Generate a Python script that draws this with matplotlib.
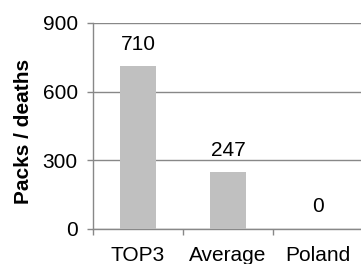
import matplotlib
matplotlib.use("Agg")
import matplotlib.pyplot as plt

categories = ["TOP3", "Average", "Poland"]
values = [710, 247, 0]
yticks = [0, 300, 600, 900]

plt.rcParams['font.family'] = ['Liberation Sans', 'DejaVu Sans']
fs = 15

fig = plt.figure(figsize=(3.61, 2.64), dpi=100)
ax = fig.add_axes([93/361, 1-229/264, 270/361, 206/264])

gray = '#888888'
x = list(range(len(categories)))
ax.bar(x, values, width=0.4, color='#c0c0c0', zorder=3)
for xi, v in zip(x, values):
    ax.annotate(str(v), (xi, v), xytext=(0, 9), textcoords='offset points',
                ha='center', va='bottom', fontsize=fs, color='black')

ax.set_xlim(-0.5, 2.5)
ax.set_ylim(0, 900)
ax.set_yticks(yticks)
ax.set_yticklabels([str(t) for t in yticks], fontsize=fs)
ax.yaxis.grid(True, color=gray, linewidth=1.0, zorder=0)
ax.set_axisbelow(True)

ax.set_xticks(x)
ax.set_xticklabels(categories, fontsize=fs)
ax.tick_params(axis='x', length=0, pad=12)
ax.set_xticks([-0.5, 0.5, 1.5, 2.5], minor=True)
ax.tick_params(axis='x', which='minor', length=4, color=gray, width=1)
ax.tick_params(axis='y', length=4, color=gray, width=1, pad=7)

for s in ['top', 'right']:
    ax.spines[s].set_visible(False)
for s in ['left', 'bottom']:
    ax.spines[s].set_color(gray)
    ax.spines[s].set_linewidth(1.0)

fig.text(24/361, 1-131/264, "Packs / deaths", rotation=90, ha='center', va='center',
         fontsize=fs, fontweight='bold')

fig.savefig("out.png", dpi=100)
